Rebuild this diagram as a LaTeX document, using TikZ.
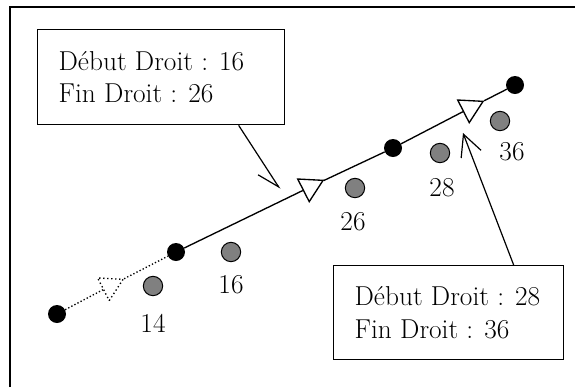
\documentclass[tikz,border=0pt]{standalone}
\usetikzlibrary{arrows.meta,shapes.geometric,calc}
\begin{document}
\begin{tikzpicture}[x=0.75pt,y=-0.75pt,
  blackdot/.style={circle,fill=black,inner sep=0pt,minimum size=13.5pt},
  graydot/.style={circle,draw=black,fill=gray,line width=0.75pt,inner sep=0pt,minimum size=14.5pt},
  tri/.style={regular polygon,regular polygon sides=3,shape border rotate=177,draw=black,fill=white,line width=1pt,inner sep=0pt,minimum size=22pt},
  infobox/.style={draw=black,line width=1pt,rectangle,align=left,inner xsep=15.75pt,inner ysep=0pt,anchor=north west,
    font=\fontsize{20.5}{24.5}\selectfont},
  numlab/.style={inner sep=0pt,font=\fontsize{20.5}{24.5}\selectfont},
  mainline/.style={line width=1pt},
  callout/.style={line width=0.9pt,-{Straight Barb[length=16pt,width=16pt]}}
]
\useasboundingbox (0,0) rectangle (575,387);
\draw[line width=1.5pt] (10,387) -- (10,7) -- (575,7);

% boxes
\node[infobox,minimum width=185.25pt,minimum height=71.25pt] (box1) at (37,29)
  {\makebox[153.75pt][l]{D\'ebut Droit : 16}\\\makebox[153.75pt][l]{Fin Droit : 26}};
\node[infobox,minimum width=172.5pt,minimum height=70.5pt] (box2) at (333,265)
  {\makebox[141pt][l]{D\'ebut Droit : 28}\\\makebox[141pt][l]{Fin Droit : 36}};

% line points
\node[blackdot] (d1) at (57,314) {};
\node[blackdot] (d2) at (176,252) {};
\node[blackdot] (d3) at (393,148) {};
\node[blackdot] (d4) at (515,85) {};
\node[tri,dotted] (t1) at (110,286) {};
\node[tri] (t2) at (310,187) {};
\node[tri] (t3) at (470,108) {};

\draw[line width=1pt,dash pattern=on 1pt off 1.6pt] (d1) -- (t1) -- (d2);
\draw[mainline] (d2) -- (t2) -- (d3) -- (t3) -- (d4);

% gray dots and labels
\node[graydot] (g1) at (153,286) {};
\node[graydot] (g2) at (231,252) {};
\node[graydot] (g3) at (355,188) {};
\node[graydot] (g4) at (440,153) {};
\node[graydot] (g5) at (500,121) {};
\node[numlab] (l1) at (153,323) {14};
\node[numlab] (l2) at (231,285) {16};
\node[numlab] (l3) at (353,222) {26};
\node[numlab] (l4) at (442,188) {28};
\node[numlab] (l5) at (512,152) {36};

% callouts
\coordinate (tip1) at (280,189);
\coordinate (tip2) at (463,133);
\draw[line width=0.9pt,-{Straight Barb[length=16pt,width=16pt,harpoon,swap]}] ([xshift=58.1pt]box1.south) -- (tip1);
\draw[callout] ([xshift=48.75pt]box2.north) -- (tip2);
\end{tikzpicture}
\end{document}
